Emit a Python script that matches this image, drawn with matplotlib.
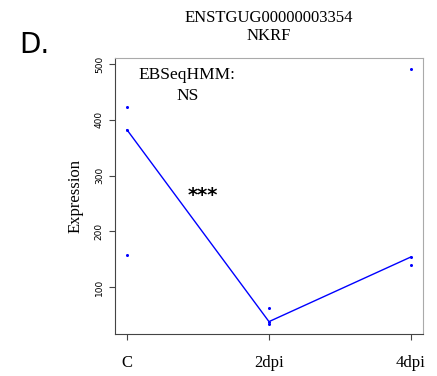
import numpy as np
import matplotlib
matplotlib.use("Agg")
import matplotlib.pyplot as plt

# expression values
groups = ["C", "2dpi", "4dpi"]
reps_C = [423, 382, 157]
reps_2dpi = [62, 38, 33]
reps_4dpi = [491, 154, 140]
yticks = [100, 200, 300, 400, 500]

reps = [reps_C, reps_2dpi, reps_4dpi]
medians = [np.median(r) for r in reps]

fig = plt.figure(figsize=(4.37, 3.76), dpi=100)
ax = fig.add_axes([0.263, 0.112, 0.705, 0.734])

for i, r in enumerate(reps):
    ax.plot([i] * len(r), r, 'o', color='#0000ff', markersize=2.2, markeredgewidth=0)
ax.plot(range(len(groups)), medians, color='#0000ff', linewidth=1)

ax.set_xlim(-0.085, 2.085)
ax.set_ylim(16, 511)
ax.set_xticks(range(len(groups)))
ax.set_xticklabels(groups, family='Liberation Serif', fontsize=12)
ax.set_yticks(yticks)
ax.set_yticklabels([str(t) for t in yticks], rotation=90, fontsize=6.5, va='center')
ax.tick_params(axis='x', length=4, pad=11, color='#444444')
ax.tick_params(axis='y', length=4, pad=4, color='#444444')
for s in ['left', 'bottom']:
    ax.spines[s].set_color('#444444')
for s in ['top', 'right']:
    ax.spines[s].set_color('#aaaaaa')

ax.set_ylabel("Expression", family='Liberation Serif', fontsize=12, labelpad=8)

ax.text(0.235, 0.9, "EBSeqHMM:\nNS", transform=ax.transAxes, ha='center', va='center',
        family='Liberation Serif', fontsize=12.5, linespacing=1.45)
ax.text(0.286, 0.5, "***", transform=ax.transAxes, ha='center', va='center',
        fontsize=14, fontweight='bold')

fig.text(0.616, 0.929, "ENSTGUG00000003354\nNKRF", ha='center', va='center',
         family='Liberation Serif', fontsize=12, linespacing=1.15)
fig.text(0.045, 0.88, "D.", ha='left', va='center', fontsize=20)

fig.savefig("out.png", dpi=100)
